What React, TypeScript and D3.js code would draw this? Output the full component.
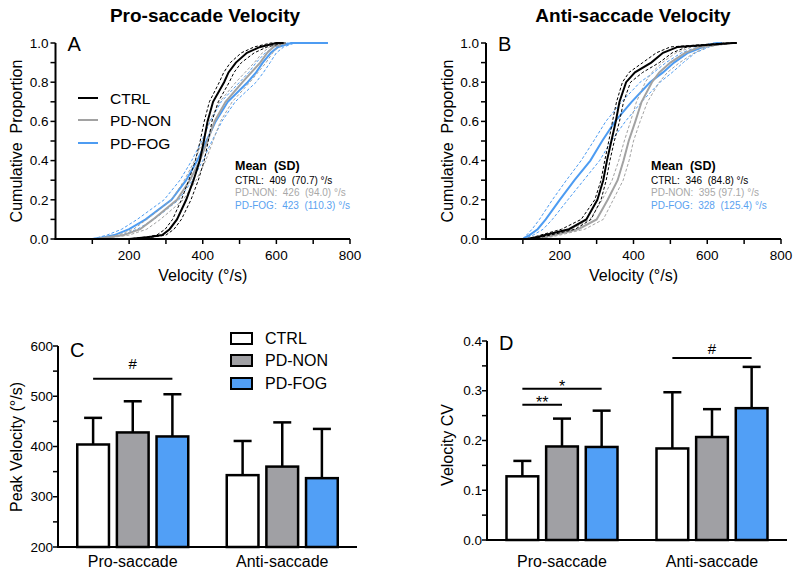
import React from "react";
import * as d3 from "d3";

// ---------- data ----------
const groups = ["CTRL", "PD-NON", "PD-FOG"];
const conditions = ["Pro-saccade", "Anti-saccade"];

// cumulative proportion levels shared by all CDF curves
const cdfLevels = [0, 0.01, 0.02, 0.05, 0.1, 0.2, 0.3, 0.4, 0.5, 0.6, 0.7, 0.8, 0.85, 0.9, 0.95, 0.98, 1, 1];

// Pro-saccade velocity (deg/s) at each level
const proCtrl = [200, 255, 290, 310, 330, 355, 375, 392, 403, 413, 428, 458, 470, 490, 520, 556, 600, 620];
const proCtrlLo = [195, 245, 275, 298, 318, 342, 362, 380, 393, 404, 418, 445, 457, 475, 505, 540, 585, 620];
const proCtrlHi = [205, 265, 300, 322, 342, 368, 388, 404, 415, 425, 442, 472, 485, 505, 540, 575, 620, 625];
const proNon = [110, 150, 185, 230, 265, 330, 365, 392, 413, 432, 462, 508, 532, 556, 575, 592, 620, 625];
const proNonLo = [108, 140, 170, 212, 248, 315, 350, 378, 400, 418, 446, 490, 515, 540, 562, 582, 610, 625];
const proNonHi = [112, 162, 200, 248, 285, 347, 382, 408, 428, 448, 480, 528, 550, 572, 590, 605, 630, 630];
const proFog = [100, 135, 160, 200, 245, 315, 355, 385, 410, 435, 468, 522, 545, 563, 585, 605, 640, 740];
const proFogLo = [100, 120, 140, 180, 222, 295, 338, 370, 397, 420, 450, 500, 525, 545, 570, 595, 630, 740];
const proFogHi = [105, 150, 180, 222, 268, 335, 372, 400, 425, 452, 488, 545, 565, 583, 600, 620, 650, 740];

// Anti-saccade velocity (deg/s) at each level
const antiCtrl = [110, 140, 160, 225, 272, 302, 318, 328, 340, 352, 362, 380, 404, 448, 480, 520, 670, 680];
const antiCtrlLo = [108, 130, 148, 205, 258, 295, 312, 322, 333, 343, 354, 370, 388, 425, 462, 500, 650, 680];
const antiCtrlHi = [112, 150, 175, 242, 285, 312, 326, 336, 348, 362, 373, 392, 425, 470, 505, 545, 680, 680];
const antiNon = [130, 160, 185, 250, 300, 330, 357, 373, 387, 405, 422, 450, 470, 500, 540, 580, 662, 670];
const antiNonLo = [128, 150, 170, 232, 282, 315, 342, 360, 375, 392, 408, 432, 450, 478, 515, 560, 640, 670];
const antiNonHi = [132, 175, 200, 268, 318, 345, 372, 388, 400, 418, 438, 470, 492, 525, 565, 600, 670, 670];
const antiFog = [100, 108, 118, 140, 162, 200, 240, 283, 315, 350, 395, 445, 480, 510, 548, 590, 626, 640];
const antiFogLo = [100, 104, 110, 125, 145, 180, 218, 258, 292, 325, 368, 418, 455, 488, 530, 575, 615, 640];
const antiFogHi = [100, 115, 128, 155, 180, 222, 265, 308, 340, 378, 422, 472, 505, 535, 568, 605, 638, 640];

const statsPro = ["CTRL:  409  (70.7) °/s", "PD-NON:  426  (94.0) °/s", "PD-FOG:  423  (110.3) °/s"];
const statsAnti = ["CTRL:  346  (84.8) °/s", "PD-NON:  395 (97.1) °/s", "PD-FOG:  328  (125.4) °/s"];

// Bar panels
const peakMeanPro = [404, 428, 420];
const peakSdPro = [53, 62, 84];
const peakMeanAnti = [343, 360, 337];
const peakSdAnti = [68, 88, 98];

const cvMeanPro = [0.128, 0.188, 0.187];
const cvSdPro = [0.031, 0.056, 0.073];
const cvMeanAnti = [0.184, 0.207, 0.265];
const cvSdAnti = [0.113, 0.056, 0.083];

const peakTicks = [200, 250, 300, 350, 400, 450, 500, 550, 600];
const cvTicks = [0, 0.05, 0.1, 0.15, 0.2, 0.25, 0.3, 0.35, 0.4];
const cdfYTicks = [0, 0.1, 0.2, 0.3, 0.4, 0.5, 0.6, 0.7, 0.8, 0.9, 1];
const cdfXTicks = [100, 200, 300, 400, 500, 600, 700, 800];

const sigPeak = [{ cond: 0, from: 0, to: 2, value: 535, label: "#" }];
const sigCv = [
  { cond: 0, from: 0, to: 1, value: 0.272, label: "**" },
  { cond: 0, from: 0, to: 2, value: 0.304, label: "*" },
  { cond: 1, from: 0, to: 2, value: 0.366, label: "#" },
];

// ---------- style ----------
const FONT = "'Liberation Sans', Arial, Helvetica, sans-serif";
const lineColors = ["#000000", "#a2a2a2", "#4d9cf2"];
const textColors = ["#000000", "#a8a8a8", "#5aa2f0"];
const barFills = ["#ffffff", "#a0a0a4", "#519ff6"];

type Curve = { mid: number[]; lo: number[]; hi: number[]; color: string };

function CdfPanel(props: {
  left: number; right: number; top: number; bottom: number;
  title: string; titleX: number; letter: string; curves: Curve[];
  stats: string[]; statsX: number; showLegend: boolean; yLabelX: number;
}) {
  const { left, right, top, bottom } = props;
  const x = d3.scaleLinear().domain([0, 800]).range([left, right]);
  const y = d3.scaleLinear().domain([0, 1]).range([bottom, top]);
  const line = d3
    .line<number>()
    .x((d) => x(d))
    .y((_, i) => y(cdfLevels[i]));
  const midY = (top + bottom) / 2;
  return (
    <g fontFamily={FONT}>
      <text x={props.titleX} y={22} textAnchor="middle" fontWeight="bold" fontSize={19}>
        {props.title}
      </text>
      {[2, 1, 0].map((gi) => {
        const c = props.curves[gi];
        return (
          <g key={gi}>
            <path d={line(c.lo) || ""} fill="none" stroke={c.color} strokeWidth={1} strokeDasharray="3,2" />
            <path d={line(c.hi) || ""} fill="none" stroke={c.color} strokeWidth={1} strokeDasharray="3,2" />
            <path d={line(c.mid) || ""} fill="none" stroke={c.color} strokeWidth={2} />
          </g>
        );
      })}
      <line x1={left} x2={left} y1={bottom + 1} y2={top} stroke="#000" strokeWidth={2} />
      <line x1={left - 1} x2={right} y1={bottom} y2={bottom} stroke="#000" strokeWidth={2} />
      {cdfYTicks.map((t, i) => (
        <g key={"y" + t}>
          <line x1={left - 5} x2={left} y1={y(t)} y2={y(t)} stroke="#000" strokeWidth={1.5} />
          {i % 2 === 0 && (
            <text x={left - 7} y={y(t)} dy="0.35em" textAnchor="end" fontSize={13.5}>
              {t.toFixed(1)}
            </text>
          )}
        </g>
      ))}
      {cdfXTicks.map((t, i) => (
        <g key={"x" + t}>
          <line x1={x(t)} x2={x(t)} y1={bottom} y2={bottom + 5} stroke="#000" strokeWidth={1.5} />
          {i % 2 === 1 && (
            <text x={x(t)} y={bottom + 21} textAnchor="middle" fontSize={13.5}>
              {t}
            </text>
          )}
        </g>
      ))}
      <text x={(left + right) / 2} y={281} textAnchor="middle" fontSize={16}>
        Velocity (°/s)
      </text>
      <text
        transform={`translate(${props.yLabelX},${midY}) rotate(-90)`}
        textAnchor="middle"
        fontSize={16}
        style={{ whiteSpace: "pre" }}
      >
        {"Cumulative  Proportion"}
      </text>
      <text x={left + 12} y={top + 8} fontSize={20}>
        {props.letter}
      </text>
      {props.showLegend &&
        groups.map((g, i) => {
          const ly = [98, 120, 143][i];
          return (
            <g key={g}>
              <line x1={78} x2={98} y1={ly} y2={ly} stroke={lineColors[i]} strokeWidth={2} />
              <text x={110} y={ly + 5.5} fontSize={15.5}>
                {g}
              </text>
            </g>
          );
        })}
      <text x={props.statsX} y={170} fontSize={12.5} fontWeight="bold" style={{ whiteSpace: "pre" }}>
        {"Mean  (SD)"}
      </text>
      {props.stats.map((s, i) => (
        <text
          key={i}
          x={props.statsX}
          y={184 + i * 12.3}
          fontSize={10}
          fill={textColors[i]}
          style={{ whiteSpace: "pre" }}
        >
          {s}
        </text>
      ))}
    </g>
  );
}

function BarPanel(props: {
  left: number; right: number; top: number; bottom: number;
  domain: [number, number]; ticks: number[]; tickFmt: (v: number) => string;
  means: number[][]; sds: number[][]; letter: string; letterY: number;
  yLabel: string; yLabelX: number; yLabelY: number;
  sigs: { cond: number; from: number; to: number; value: number; label: string }[];
  sigDy: Record<string, number>; showLegend: boolean;
}) {
  const { left, right, top, bottom } = props;
  const y = d3.scaleLinear().domain(props.domain).range([bottom, top]);
  const xc = d3.scalePoint<string>().domain(conditions).range([left, right]).padding(0.5);
  const xg = d3.scaleBand<string>().domain(groups).range([-55.5, 55.5]).paddingInner(0.2);
  const bw = xg.bandwidth();
  const center = (ci: number, gi: number) => (xc(conditions[ci]) as number) + (xg(groups[gi]) as number) + bw / 2;
  return (
    <g fontFamily={FONT}>
      {conditions.map((c, ci) =>
        groups.map((g, gi) => {
          const m = props.means[ci][gi];
          const s = props.sds[ci][gi];
          const cx = center(ci, gi);
          return (
            <g key={c + g}>
              <line x1={cx} x2={cx} y1={y(m)} y2={y(m + s)} stroke="#000" strokeWidth={2.5} />
              <line x1={cx - 9} x2={cx + 9} y1={y(m + s)} y2={y(m + s)} stroke="#000" strokeWidth={2.5} />
              <rect
                x={cx - bw / 2}
                y={y(m)}
                width={bw}
                height={bottom - y(m)}
                fill={barFills[gi]}
                stroke="#000"
                strokeWidth={2.5}
              />
            </g>
          );
        })
      )}
      <line x1={left} x2={left} y1={bottom + 1} y2={top} stroke="#000" strokeWidth={2} />
      <line x1={left - 1} x2={right} y1={bottom} y2={bottom} stroke="#000" strokeWidth={2} />
      {props.ticks.map((t, i) => (
        <g key={t}>
          <line x1={left - 5} x2={left} y1={y(t)} y2={y(t)} stroke="#000" strokeWidth={1.5} />
          {i % 2 === 0 && (
            <text x={left - 5} y={y(t)} dy="0.35em" textAnchor="end" fontSize={13.5}>
              {props.tickFmt(t)}
            </text>
          )}
        </g>
      ))}
      {conditions.map((c) => (
        <text key={c} x={xc(c) as number} y={567} textAnchor="middle" fontSize={16}>
          {c}
        </text>
      ))}
      <text transform={`translate(${props.yLabelX},${props.yLabelY}) rotate(-90)`} textAnchor="middle" fontSize={16}>
        {props.yLabel}
      </text>
      <text x={left + 12} y={props.letterY} fontSize={20}>
        {props.letter}
      </text>
      {props.sigs.map((s, i) => {
        const x1 = center(s.cond, s.from);
        const x2 = center(s.cond, s.to);
        const ly = y(s.value);
        return (
          <g key={i}>
            <line x1={x1} x2={x2} y1={ly} y2={ly} stroke="#000" strokeWidth={2} />
            <text
              x={(x1 + x2) / 2}
              y={ly - (props.sigDy[s.label] ?? 0)}
              textAnchor="middle"
              fontSize={s.label === "#" ? 15 : 16}
            >
              {s.label}
            </text>
          </g>
        );
      })}
      {props.showLegend &&
        groups.map((g, i) => {
          const ly = [333, 355, 378][i];
          return (
            <g key={g}>
              <rect x={231} y={ly} width={21} height={11} fill={barFills[i]} stroke="#000" strokeWidth={2} />
              <text x={265} y={ly + 11} fontSize={16}>
                {g}
              </text>
            </g>
          );
        })}
    </g>
  );
}

export default function App() {
  const proCurves: Curve[] = [
    { mid: proCtrl, lo: proCtrlLo, hi: proCtrlHi, color: lineColors[0] },
    { mid: proNon, lo: proNonLo, hi: proNonHi, color: lineColors[1] },
    { mid: proFog, lo: proFogLo, hi: proFogHi, color: lineColors[2] },
  ];
  const antiCurves: Curve[] = [
    { mid: antiCtrl, lo: antiCtrlLo, hi: antiCtrlHi, color: lineColors[0] },
    { mid: antiNon, lo: antiNonLo, hi: antiNonHi, color: lineColors[1] },
    { mid: antiFog, lo: antiFogLo, hi: antiFogHi, color: lineColors[2] },
  ];
  return (
    <svg
      width={800}
      height={577}
      viewBox="0 0 800 577"
      style={{ position: "absolute", left: 0, top: 0, background: "#fff" }}
    >
      <rect width={800} height={577} fill="#fff" />
      <CdfPanel
        left={55.5} right={350} top={43} bottom={239}
        title="Pro-saccade Velocity" titleX={205} letter="A" curves={proCurves}
        stats={statsPro} statsX={235} showLegend={true} yLabelX={22}
      />
      <CdfPanel
        left={486} right={781} top={43} bottom={239}
        title="Anti-saccade Velocity" titleX={633} letter="B" curves={antiCurves}
        stats={statsAnti} statsX={651} showLegend={false} yLabelX={453}
      />
      <BarPanel
        left={58} right={357} top={346} bottom={547}
        domain={[200, 600]} ticks={peakTicks} tickFmt={(v) => String(v)}
        means={[peakMeanPro, peakMeanAnti]} sds={[peakSdPro, peakSdAnti]}
        letter="C" letterY={357} yLabel="Peak Velocity (°/s)" yLabelX={22} yLabelY={447}
        sigs={sigPeak} sigDy={{ "#": 10 }} showLegend={true}
      />
      <BarPanel
        left={487} right={787} top={341} bottom={540}
        domain={[0, 0.4]} ticks={cvTicks} tickFmt={(v) => v.toFixed(1)}
        means={[cvMeanPro, cvMeanAnti]} sds={[cvSdPro, cvSdAnti]}
        letter="D" letterY={350} yLabel="Velocity CV" yLabelX={453} yLabelY={445}
        sigs={sigCv} sigDy={{ "#": 4, "*": -3, "**": -3 }} showLegend={false}
      />
    </svg>
  );
}
